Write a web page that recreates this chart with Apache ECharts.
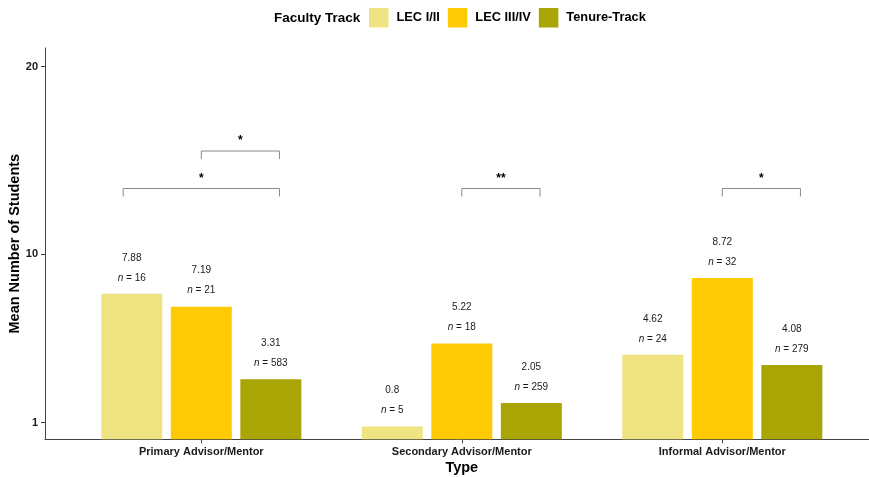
<!DOCTYPE html>
<html>
<head>
<meta charset="utf-8">
<script src="https://cdn.jsdelivr.net/npm/echarts@6/dist/echarts.min.js"></script>
<style>
  html, body { margin: 0; padding: 0; background: #ffffff; }
  #chart { width: 869px; height: 477px; }
</style>
</head>
<body>
<div id="chart"></div>
<script>
// Mentoring roles on the x axis
const categories = ['Primary Advisor/Mentor', 'Secondary Advisor/Mentor', 'Informal Advisor/Mentor'];
// Faculty tracks (legend order)
const tracks = ['LEC I/II', 'LEC III/IV', 'Tenure-Track'];
const trackColors = ['#F0E482', '#FECA03', '#A9A505'];

// Mean number of students per role, one array per track
const lec12Means = [7.88, 0.8, 4.62];
const lec34Means = [7.19, 5.22, 8.72];
const tenureMeans = [3.31, 2.05, 4.08];

// Sample sizes printed under each mean
const lec12N = [16, 5, 24];
const lec34N = [21, 18, 32];
const tenureN = [583, 259, 279];

// y axis breaks
const yTicks = [1, 10, 20];

// Significance brackets, x in category-index units
const bracketFrom = [-0.3, 0, 1, 2];
const bracketTo = [0.3, 0.3, 1.3, 2.3];
const bracketY = [13.5, 15.5, 13.5, 13.5];
const bracketStars = ['*', '*', '**', '*'];

const FONT = '"Liberation Sans", Arial, Helvetica, sans-serif';

const meansByTrack = [lec12Means, lec34Means, tenureMeans];
const nByTrack = [lec12N, lec34N, tenureN];

const barSeries = tracks.map((name, t) => ({
  name: name,
  type: 'bar',
  barWidth: 61,
  barGap: '14%',
  itemStyle: { color: trackColors[t] },
  data: meansByTrack[t].map((v, i) => [i, v]),
  label: {
    show: true,
    position: 'top',
    distance: 6,
    formatter: p => '{v|' + p.value[1] + '}\n{i|n}{t| = ' + nByTrack[t][p.dataIndex] + '}',
    rich: {
      v: { fontFamily: FONT, fontSize: 10, lineHeight: 20, color: '#1a1a1a' },
      i: { fontFamily: FONT, fontSize: 10, lineHeight: 20, color: '#1a1a1a', fontStyle: 'italic' },
      t: { fontFamily: FONT, fontSize: 10, lineHeight: 20, color: '#1a1a1a' }
    }
  },
  emphasis: { disabled: true }
}));

const bracketSeries = {
  type: 'custom',
  silent: true,
  clip: false,
  encode: { x: [0, 1], y: 2 },
  data: bracketFrom.map((f, k) => [f, bracketTo[k], bracketY[k], bracketStars[k]]),
  renderItem: function (params, api) {
    const a = api.coord([api.value(0), api.value(2)]);
    const b = api.coord([api.value(1), api.value(2)]);
    const tip = 8;
    return {
      type: 'group',
      children: [
        {
          type: 'polyline',
          shape: { points: [[a[0], a[1] + tip], a, b, [b[0], b[1] + tip]] },
          style: { stroke: '#8a8a8a', lineWidth: 1, fill: null }
        },
        {
          type: 'text',
          x: (a[0] + b[0]) / 2,
          y: a[1] - 10,
          style: {
            text: bracketStars[params.dataIndex],
            fontFamily: FONT,
            fontSize: 12,
            fontWeight: 'bold',
            fill: '#000',
            align: 'center',
            verticalAlign: 'middle'
          }
        }
      ]
    };
  }
};

const chart = echarts.init(document.getElementById('chart'), null, { renderer: 'canvas' });
chart.setOption({
  animation: false,
  backgroundColor: '#ffffff',
  title: {
    text: 'Faculty Track',
    left: 274,
    top: 11,
    padding: 0,
    textStyle: { fontFamily: FONT, fontSize: 13.5, fontWeight: 'bold', color: '#000' }
  },
  legend: {
    data: tracks,
    left: 369,
    top: 8,
    padding: 0,
    icon: 'rect',
    itemWidth: 19.5,
    itemHeight: 19.5,
    itemGap: 8,
    selectedMode: false,
    textStyle: { fontFamily: FONT, fontSize: 12.8, fontWeight: 'bold', color: '#000', padding: [0, 0, 0, 3] }
  },
  grid: {
    left: 45, top: 48, width: 833.6, height: 391.3,
    containLabel: false,
    outerBoundsMode: 'none'
  },
  xAxis: {
    type: 'value',
    min: -0.6,
    max: 2.6,
    name: 'Type',
    nameLocation: 'middle',
    nameGap: 21,
    nameMoveOverlap: false,
    nameTextStyle: { fontFamily: FONT, fontSize: 14.5, fontWeight: 'bold', color: '#000' },
    axisLine: { show: true, onZero: false, lineStyle: { color: '#444', width: 1 } },
    axisTick: { show: true, length: 4, customValues: [0, 1, 2], lineStyle: { color: '#444' } },
    axisLabel: {
      customValues: [0, 1, 2],
      margin: 7,
      formatter: v => categories[Math.round(v)],
      fontFamily: FONT, fontSize: 11, fontWeight: 'bold', color: '#1a1a1a'
    },
    splitLine: { show: false }
  },
  yAxis: {
    type: 'value',
    min: 0.11,
    max: 21,
    name: 'Mean Number of Students',
    nameLocation: 'middle',
    nameRotate: 90,
    nameGap: 23,
    nameMoveOverlap: false,
    nameTextStyle: { fontFamily: FONT, fontSize: 14.5, fontWeight: 'bold', color: '#000' },
    axisLine: { show: true, onZero: false, lineStyle: { color: '#444', width: 1 } },
    axisTick: { show: true, length: 4, customValues: yTicks, lineStyle: { color: '#444' } },
    axisLabel: {
      customValues: yTicks,
      margin: 7,
      fontFamily: FONT, fontSize: 11, fontWeight: 'bold', color: '#1a1a1a'
    },
    splitLine: { show: false }
  },
  series: barSeries.concat([bracketSeries])
});
</script>
</body>
</html>
